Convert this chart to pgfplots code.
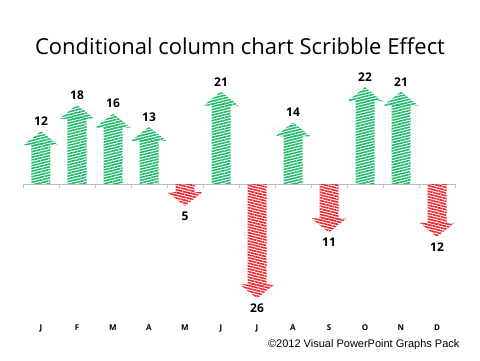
\documentclass[border=0pt]{standalone}
\usepackage{pgfplots}
\pgfplotsset{compat=1.18}
\usepackage{pgfplotstable}
\usepackage{fontspec}
\setmainfont{Open Sans}
\newfontfamily\arialf{Liberation Sans}
\usetikzlibrary{patterns.meta}
\definecolor{scgreen}{RGB}{30,185,105}
\definecolor{scred}{RGB}{238,40,50}
\definecolor{axgray}{RGB}{190,190,190}
\tikzset{
  gpat/.style={pattern={Lines[angle=14,distance=2.7pt,line width=1.6pt]},pattern color=scgreen},
  rpat/.style={pattern={Lines[angle=-14,distance=2.7pt,line width=1.6pt]},pattern color=scred}
}
\pgfdeclareplotmark{uphead}{\path[gpat, draw=none] (0pt,0pt) -- (-17.5pt,-14pt) -- (17.5pt,-14pt) -- cycle;}
\pgfdeclareplotmark{downhead}{\path[rpat, draw=none] (0pt,0pt) -- (-17.5pt,14pt) -- (17.5pt,14pt) -- cycle;}

\pgfplotstableread{
x v a
0 12 12
1 18 18
2 16 16
3 13 13
5 21 21
7 14 14
9 22 22
10 21 21
}\posdata
\pgfplotstableread{
x v a
4 -5 5
6 -26 26
8 -11 11
11 -12 12
}\negdata

\begin{document}
\begin{tikzpicture}
\path[use as bounding box] (0,0) rectangle (480pt,360pt);
\node[font=\fontsize{22}{26}\selectfont] at (240pt,314pt) {Conditional column chart Scribble Effect};
\node[font=\arialf\fontsize{11}{13}\selectfont, anchor=base east] at (463pt,13pt) {©2012 Visual PowerPoint Graphs Pack};
\begin{axis}[
  at={(23pt,44pt)}, anchor=south west,
  scale only axis, width=432pt, height=264pt,
  xmin=-0.5, xmax=11.5, ymin=-30, ymax=30,
  hide y axis,
  axis line style={draw=none},
  major tick length=0pt,
  xtick={0,...,11},
  xticklabels={J,F,M,A,M,J,J,A,S,O,N,D},
  xticklabel style={font=\bfseries\fontsize{8}{9}\selectfont, yshift=-5pt},
  /pgf/number format/assume math mode=true,
  clip=false,
]
\draw[axgray, line width=0.8pt] (axis cs:-0.5,0) -- (axis cs:11.5,0);
\pgfplotsinvokeforeach{-0.5,0.5,1.5,2.5,3.5,4.5,5.5,6.5,7.5,8.5,9.5,10.5,11.5}{
  \draw[axgray, line width=0.8pt] (axis cs:#1,0) -- ([yshift=-4pt]axis cs:#1,0);
}
\addplot[ybar, bar width=19pt, draw=none, gpat] table[x=x, y expr=\thisrow{v}-2.8] {\posdata};
\addplot[ybar, bar width=19pt, draw=none, rpat] table[x=x, y expr=\thisrow{v}+2.8] {\negdata};
\addplot[only marks, mark=uphead, point meta=explicit,
  nodes near coords,
  every node near coord/.style={font=\bfseries\fontsize{12}{14}\selectfont, anchor=south, yshift=2pt, text=black}]
  table[x=x, y=v, meta=a] {\posdata};
\addplot[only marks, mark=downhead, point meta=explicit,
  nodes near coords,
  every node near coord/.style={font=\bfseries\fontsize{12}{14}\selectfont, anchor=north, yshift=-2pt, text=black}]
  table[x=x, y=v, meta=a] {\negdata};
\end{axis}
\end{tikzpicture}
\end{document}
